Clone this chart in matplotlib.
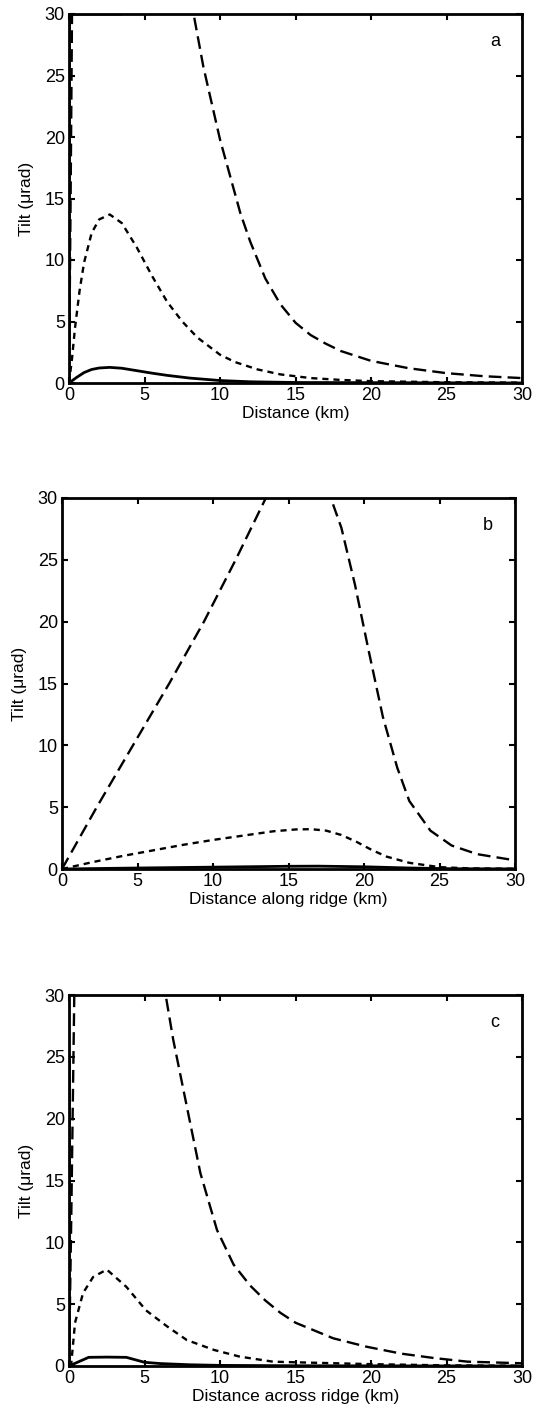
import matplotlib
matplotlib.use('Agg')
import matplotlib.pyplot as plt

plt.rcParams['font.family'] = ['Liberation Sans', 'DejaVu Sans']
plt.rcParams['font.size'] = 12.5

# ---- panel a: Distance (km) ----
a_solid_x = [0, 0.5, 1, 1.5, 2, 2.7, 3.5, 4.5, 5.5, 6.5, 8, 10, 12, 15, 30]
a_solid_y = [0, 0.45, 0.85, 1.1, 1.22, 1.27, 1.2, 1.0, 0.8, 0.62, 0.4, 0.2, 0.1, 0.04, 0.0]
a_near_x = [0, 0.03, 3.4]
a_near_y = [0, 30, 30]
a_short_x = [0, 0.2, 0.4, 0.7, 1, 1.5, 2, 2.7, 3.5, 4.5, 5.5, 6.5, 7.5, 8.5, 10, 11,
             12.5, 14, 16, 18, 20, 25, 30]
a_short_y = [0, 2, 4.5, 7.5, 9.8, 12.2, 13.3, 13.7, 13.0, 11.0, 8.7, 6.6, 5.0, 3.7, 2.3,
             1.7, 1.1, 0.7, 0.4, 0.25, 0.15, 0.06, 0.03]
a_long_x = [0, 0.1, 0.2, 0.35, 7.5, 8.25, 8.9, 10, 11.35, 12, 13, 14, 15, 16, 17, 18,
            20, 22.5, 25, 27.5, 30]
a_long_y = [0, 14, 30, 60, 38, 30, 25.7, 19.8, 13.8, 11.5, 8.5, 6.4, 4.9, 3.9, 3.2, 2.6,
            1.8, 1.2, 0.8, 0.55, 0.4]

# ---- panel b: Distance along ridge (km) ----
b_solid_x = [0, 5, 10, 15, 17, 20, 23, 26, 30]
b_solid_y = [0, 0.08, 0.15, 0.22, 0.23, 0.18, 0.08, 0.02, 0.01]
b_short_x = [0, 2, 4, 6, 8, 10, 12, 14, 15.5, 16.5, 17.5, 18.5, 19.5, 20.5, 21.5, 23,
             25, 27, 30]
b_short_y = [0, 0.55, 1.05, 1.5, 1.95, 2.35, 2.7, 3.05, 3.2, 3.22, 3.1, 2.75, 2.2, 1.55,
             1.0, 0.5, 0.15, 0.05, 0.02]
b_long_x = [0, 2.3, 4.7, 7.1, 9.4, 11.5, 13.5, 15.5, 17.8, 18.5, 19.4, 20.3, 21.25,
            22.2, 23, 24.4, 25.8, 27.5, 30]
b_long_y = [0, 5, 10, 15, 20, 25, 30, 33, 30, 27.6, 23, 17.7, 12.3, 8.2, 5.5, 3.1, 1.9,
            1.2, 0.7]

# ---- panel c: Distance across ridge (km) ----
c_solid_x = [0, 1.3, 2.5, 3.8, 5, 6, 8, 10, 15, 30]
c_solid_y = [0, 0.7, 0.72, 0.7, 0.3, 0.2, 0.1, 0.05, 0.02, 0]
c_near_x = [0, 0.03]
c_near_y = [0, 25]
c_short_x = [0, 0.15, 0.4, 0.93, 1.6, 2.5, 3.8, 5.1, 6.5, 7.8, 9.6, 11.3, 13.5, 15, 20,
             25, 30]
c_short_y = [0, 0.2, 3.5, 5.9, 7.2, 7.8, 6.4, 4.5, 3.2, 2.1, 1.3, 0.76, 0.35, 0.3, 0.15,
             0.05, 0.02]
c_long_x = [0, 0.15, 0.35, 0.5, 5.8, 6.4, 6.9, 7.8, 8.7, 9.8, 10.9, 12, 13, 14, 15,
            17.5, 19.7, 22, 24.2, 26.4, 30]
c_long_y = [0, 12, 30, 50, 36, 30, 26.4, 21, 15.6, 11, 8.2, 6.5, 5.3, 4.3, 3.5, 2.24,
            1.56, 1.0, 0.64, 0.35, 0.22]

xticks = [0, 5, 10, 15, 20, 25, 30]
yticks = [0, 5, 10, 15, 20, 25, 30]

W, H = 540.0, 1420.0
panels = [
    ((69, 522, 14, 383), 'Distance (km)', 'a',
     (a_solid_x, a_solid_y), (a_near_x, a_near_y), (a_short_x, a_short_y), (a_long_x, a_long_y)),
    ((62, 515, 498, 869), 'Distance along ridge (km)', 'b',
     (b_solid_x, b_solid_y), None, (b_short_x, b_short_y), (b_long_x, b_long_y)),
    ((69, 522, 995, 1366), 'Distance across ridge (km)', 'c',
     (c_solid_x, c_solid_y), (c_near_x, c_near_y), (c_short_x, c_short_y), (c_long_x, c_long_y)),
]

fig = plt.figure(figsize=(5.4, 14.2), dpi=100)

for (l, r, t, b), xlabel, letter, solid, near, short, long_ in panels:
    ax = fig.add_axes([l / W, 1 - b / H, (r - l) / W, (b - t) / H])
    ax.plot(solid[0], solid[1], color='black', lw=2.0)
    if near is not None:
        ax.plot(near[0], near[1], color='black', lw=2.0)
    ax.plot(short[0], short[1], color='black', lw=1.7, dashes=(2.6, 2.1))
    ax.plot(long_[0], long_[1], color='black', lw=1.7, dashes=(5.4, 2.6))

    ax.set_xlim(0, 30)
    ax.set_ylim(0, 30)
    ax.set_xticks(xticks)
    ax.set_yticks(yticks)
    ax.tick_params(direction='in', length=4, width=1.5, top=True, right=True,
                   labelsize=13, pad=3)
    for s in ax.spines.values():
        s.set_linewidth(2.0)
    ax.set_xlabel(xlabel, fontsize=12.5, labelpad=1)
    ax.set_ylabel('Tilt (\u03bcrad)', fontsize=12.5, labelpad=8)
    ax.text(0.94, 0.925, letter, transform=ax.transAxes, ha='center', va='center',
            fontsize=13)

fig.savefig('out.png', dpi=100)
